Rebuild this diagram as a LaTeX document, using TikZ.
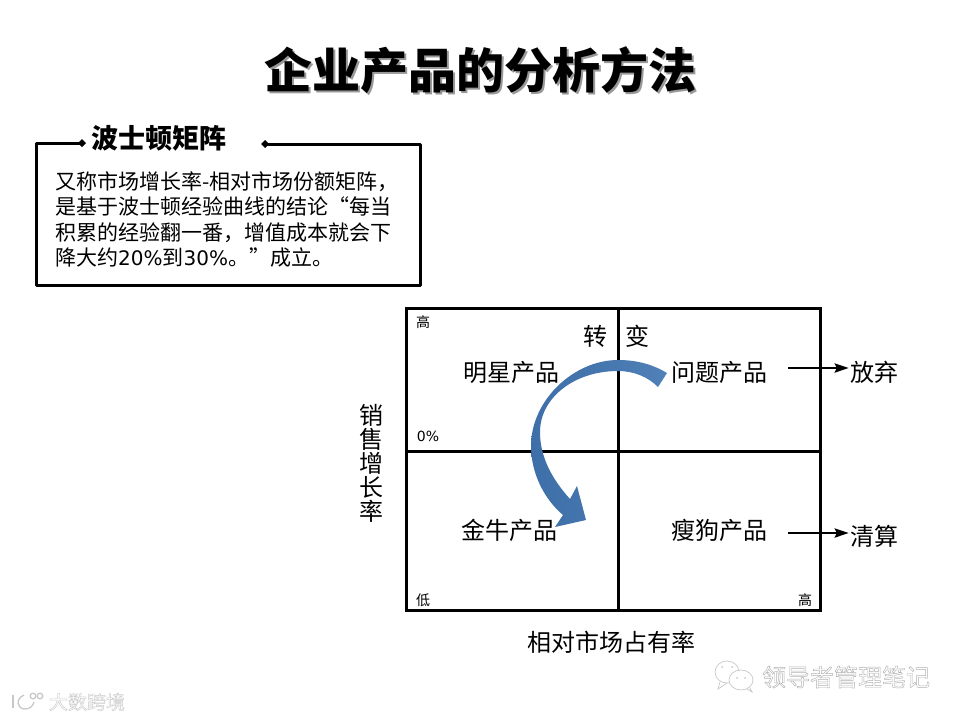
\documentclass[tikz,border=0pt]{standalone}
\usepackage{fontspec}
\setmainfont{Noto Sans CJK SC}
\newfontfamily\lat{DejaVu Sans}
\definecolor{arrowdark}{HTML}{3F6FA8}
\definecolor{arrowblue}{HTML}{4676AE}
\definecolor{arrowlight}{HTML}{5080B8}
\definecolor{wm}{HTML}{B0B0B0}
\definecolor{wmlight}{HTML}{C8C8C8}
\newcommand{\outlined}[1]{\special{pdf:code 1 Tr 0.45 w}#1\special{pdf:code 0 Tr}}
\usetikzlibrary{arrows.meta}
\tikzset{
  gridline/.style={line width=3pt,draw=black},
  boxline/.style={line width=3pt,draw=black,line cap=round,line join=round},
  quad/.style={inner sep=0pt,font=\fontsize{24}{24}\selectfont},
  tiny/.style={inner sep=0pt,font=\fontsize{14}{14}\selectfont},
  flow/.style={line width=2.5pt,-{Stealth[length=14pt,width=9pt,inset=2pt]},shorten <=21pt,shorten >=1pt},
}
\begin{document}
\begin{tikzpicture}[x=1pt,y=-1pt]
\useasboundingbox (0,0) rectangle (960,720);
% title
\node[inner sep=0pt,text=black!40,font=\fontsize{48}{54}\selectfont\bfseries] at (482,72) {企业产品的分析方法};
\node (title) [inner sep=0pt,font=\fontsize{48}{54}\selectfont\bfseries] at (480,70) {企业产品的分析方法};
% box
\node (head) [inner sep=0pt,font=\fontsize{27}{27}\selectfont\bfseries] at (159,138) {波士顿矩阵};
\coordinate (hl) at (82,143);
\coordinate (hr) at (265,144);
\draw[boxline] (hl) -- (36,143) -- (36,285) -- (420,285) -- (420,144) -- (hr);
\fill (hl) ++(-4,0) -- ++(4,-4) -- ++(4,4) -- ++(-4,4) -- cycle;
\fill (hr) ++(-4,0) -- ++(4,-4) -- ++(4,4) -- ++(-4,4) -- cycle;
\node (body) [inner sep=0pt,anchor=north west,align=left,font=\fontsize{21}{25.5}\selectfont] at (55,171)
{又称市场增长率-相对市场份额矩阵，\\是基于波士顿经验曲线的结论“每当\\积累的经验翻一番，增值成本就会下\\降大约{\lat\fontsize{20}{25.5}\selectfont 20\%}到{\lat\fontsize{20}{25.5}\selectfont 30\%}。”成立。};
% matrix
\draw[gridline] (406,308) rectangle (820,610);
\draw[gridline] (618,308) -- (618,610);
\draw[gridline] (406,451) -- (820,451);
\node[tiny] at (423,322) {高};
\node[tiny] at (423,600) {低};
\node[tiny] at (805,600) {高};
\node[tiny,font=\lat\fontsize{14}{14}\selectfont] at (428,436) {0\%};
\node[quad] at (595,336) {转};
\node[quad] at (637,336) {变};
\node (star) [quad] at (511,372) {明星产品};
\node (q) [quad] at (719,372) {问题产品};
\node (cow) [quad] at (509,530) {金牛产品};
\node (dog) [quad] at (719,530) {瘦狗产品};
\node (drop) [quad] at (874,372) {放弃};
\node (clear) [quad] at (874,536) {清算};
\draw[flow] (q.east |- 0,368) -- (drop.west |- 0,368);
\draw[flow] (dog.east |- 0,533) -- (clear.west |- 0,533);
\node[quad,align=center] at (371,463) {销\\售\\增\\长\\率};
\node[quad] at (611,642) {相对市场占有率};
% curved arrow
\path[left color=arrowdark,right color=arrowlight,middle color=arrowblue]
  (667,373)
  .. controls (652,364) and (636,360) .. (618,360)
  .. controls (574,360) and (531,400) .. (531,446)
  .. controls (531,474) and (545,500) .. (563,515)
  -- (555,527) -- (586,520) -- (577,486) -- (570,499)
  .. controls (551,478) and (540,456) .. (540,432)
  .. controls (540,398) and (574,371) .. (618,371)
  .. controls (634,371) and (648,377) .. (658,387)
  -- cycle;
% watermarks
\node (wmA) [inner sep=0pt,text=wm,font=\fontsize{24}{24}\selectfont] at (846,677) {\outlined{领导者管理笔记}};
\begin{scope}[draw=wmlight,line width=.7pt]
\draw (727,672) ellipse (12 and 11);
\draw (720,682) -- (718,689) -- (727,683);
\draw[fill=white] (741,680) ellipse (12 and 10);
\draw (747,689) -- (752,692) -- (750,688);
\fill[wmlight] (722,667) circle (1) (732,667) circle (1) (737,678) circle (1) (745,678) circle (1);
\end{scope}
\node (wmB) [inner sep=0pt,text=wmlight,font=\fontsize{19}{19}\selectfont] at (87,702) {\outlined{大数跨境}};
\begin{scope}[draw=wmlight,line width=1.3pt]
\draw (13,695) -- (13,708);
\draw (24,695) .. controls (15,699) and (17,709) .. (25,709) .. controls (30,709) and (33,706) .. (34,702);
\draw (33,696) circle (2.8);
\draw (40,696) circle (2.8);
\end{scope}
\end{tikzpicture}
\end{document}
